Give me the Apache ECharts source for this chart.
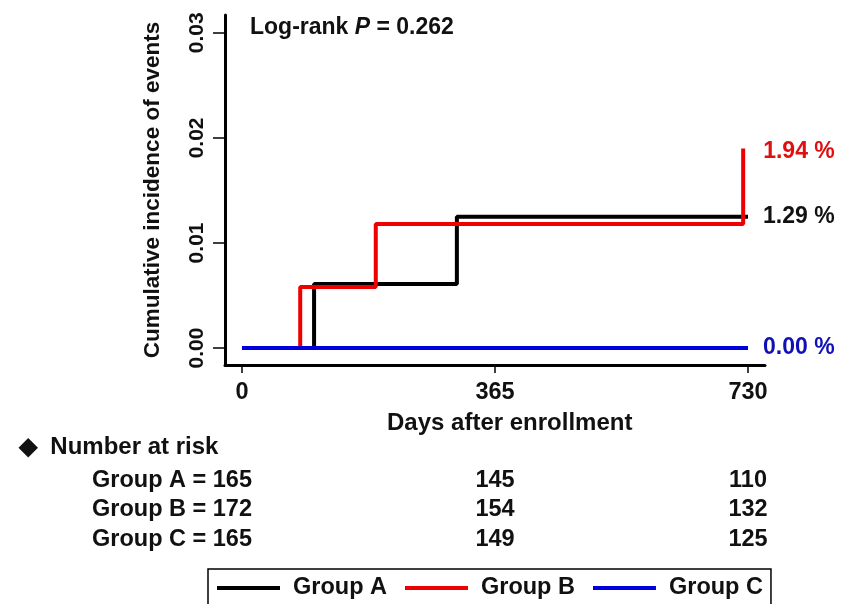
<!DOCTYPE html>
<html>
<head>
<meta charset="utf-8">
<script src="https://cdn.jsdelivr.net/npm/echarts@6/dist/echarts.min.js"></script>
<style>
  html, body { margin: 0; padding: 0; background: #fff; }
  #chart { width: 841px; height: 604px; }
</style>
</head>
<body>
<div id="chart"></div>
<script>
// cumulative incidence steps (days, incidence)
const groupNames = ['Group A', 'Group B', 'Group C'];
const stepDaysA = [0, 104, 310, 730];
const incidenceA = [0, 0.0061, 0.0125, 0.0125];
const stepDaysB = [0, 84, 193, 723];
const incidenceB = [0, 0.0058, 0.0118, 0.019];
const stepDaysC = [0, 730];
const incidenceC = [0, 0];
const endLabels = ['1.29 %', '1.94 %', '0.00 %'];
const logRankP = '0.262';

// axes
const xTicks = [0, 365, 730];
const yTicks = [0, 0.01, 0.02, 0.03];

// number at risk
const riskDays = [0, 365, 730];
const riskA = [165, 145, 110];
const riskB = [172, 154, 132];
const riskC = [165, 149, 125];

const lineColors = ['#000000', '#ee0000', '#0000dd'];
const labelColors = ['#111111', '#e01010', '#1010b8'];
const font = "'Liberation Sans', Arial, sans-serif";

const chart = echarts.init(document.getElementById('chart'));

const curves = [
    [stepDaysA, incidenceA],
    [stepDaysB, incidenceB],
    [stepDaysC, incidenceC]
];
const riskRows = [riskA, riskB, riskC];

const kmSeries = curves.map(([days, vals], i) => ({
    name: groupNames[i],
    type: 'line',
    step: 'end',
    xAxisIndex: 0,
    yAxisIndex: 0,
    symbol: 'none',
    silent: true,
    lineStyle: { color: lineColors[i], width: 4 },
    itemStyle: { color: lineColors[i] },
    data: days.map((d, k) => [d, vals[k]]),
    endLabel: {
        show: true,
        formatter: () => endLabels[i],
        color: labelColors[i],
        fontFamily: font,
        fontWeight: 'bold',
        fontSize: 23,
        distance: i === 1 ? 20 : 15,
        offset: i === 1 ? [0, 3] : [0, 0]
    }
}));

// risk numbers after day 0 as scatter labels in a second grid
const riskSeries = {
    type: 'scatter',
    xAxisIndex: 1,
    yAxisIndex: 1,
    symbolSize: 0,
    silent: true,
    itemStyle: { color: '#111', opacity: 1 },
    label: {
        show: true,
        position: 'inside',
        formatter: p => String(p.value[2]),
        color: '#111',
        opacity: 1,
        fontFamily: font,
        fontWeight: 'bold',
        fontSize: 23.5
    },
    data: riskRows.flatMap((row, r) =>
        riskDays.slice(1).map((d, k) => [d, groupNames[r], row[k + 1]]))
};

const option = {
    animation: false,
    title: {
        left: 245,
        top: 11,
        text: '{a|Log-rank }{i|P}{a| = ' + logRankP + '}',
        textStyle: {
            rich: {
                a: { fontFamily: font, fontWeight: 'bold', fontSize: 23, color: '#111' },
                i: { fontFamily: font, fontWeight: 'bold', fontStyle: 'italic', fontSize: 23, color: '#111' }
            }
        }
    },
    grid: [
        { left: 225, right: 76, top: 15, bottom: 239 },
        { left: 225, right: 76, top: 466, height: 88 }
    ],
    xAxis: [{
        type: 'value',
        gridIndex: 0,
        min: -24.5,
        max: 754.5,
        axisLine: { show: true, onZero: false, lineStyle: { color: '#000', width: 3 } },
        axisTick: { show: true, customValues: xTicks, length: 8, lineStyle: { color: '#000', width: 1.5 } },
        axisLabel: {
            customValues: xTicks,
            margin: 16,
            color: '#111',
            fontFamily: font,
            fontWeight: 'bold',
            fontSize: 23.5
        },
        splitLine: { show: false }
    }, {
        type: 'value',
        gridIndex: 1,
        min: -24.5,
        max: 754.5,
        show: false
    }],
    yAxis: [{
        type: 'value',
        gridIndex: 0,
        min: -0.00162,
        max: 0.0317,
        name: 'Cumulative incidence of events',
        nameLocation: 'middle',
        nameGap: 61,
        nameTextStyle: { color: '#111', fontFamily: font, fontWeight: 'bold', fontSize: 22.5 },
        axisLine: { show: true, onZero: false, lineStyle: { color: '#000', width: 3 } },
        axisTick: { show: true, customValues: yTicks, length: 12, lineStyle: { color: '#000', width: 1.5 } },
        axisLabel: {
            customValues: yTicks,
            rotate: 90,
            margin: 17,
            formatter: v => v.toFixed(2),
            color: '#111',
            fontFamily: font,
            fontWeight: 'bold',
            fontSize: 21
        },
        splitLine: { show: false }
    }, {
        type: 'category',
        gridIndex: 1,
        inverse: true,
        data: groupNames,
        axisLine: { show: false },
        axisTick: { show: false },
        axisLabel: {
            interval: 0,
            hideOverlap: false,
            margin: 133,
            align: 'left',
            formatter: (name, idx) => name + ' = ' + riskRows[idx][0],
            color: '#111',
            fontFamily: font,
            fontWeight: 'bold',
            fontSize: 23.5
        }
    }],
    legend: {
        data: groupNames,
        left: 208,
        top: 569,
        orient: 'horizontal',
        icon: 'rect',
        itemWidth: 63,
        itemHeight: 4,
        itemGap: 18,
        padding: [7, 8, 12, 9],
        borderColor: '#000',
        borderWidth: 1.5,
        textStyle: {
            color: '#111',
            fontFamily: font,
            fontWeight: 'bold',
            fontSize: 23.5,
            padding: [0, 0, 0, 8]
        }
    },
    graphic: [{
        type: 'text',
        left: 387,
        top: 411,
        style: {
            text: 'Days after enrollment',
            fill: '#111',
            font: 'bold 24px ' + font
        }
    }, {
        type: 'text',
        left: 19,
        top: 435,
        style: {
            text: '\u25C6  Number at risk',
            fill: '#111',
            font: 'bold 24px ' + font
        }
    }],
    series: [...kmSeries, riskSeries]
};

chart.setOption(option);
</script>
</body>
</html>
